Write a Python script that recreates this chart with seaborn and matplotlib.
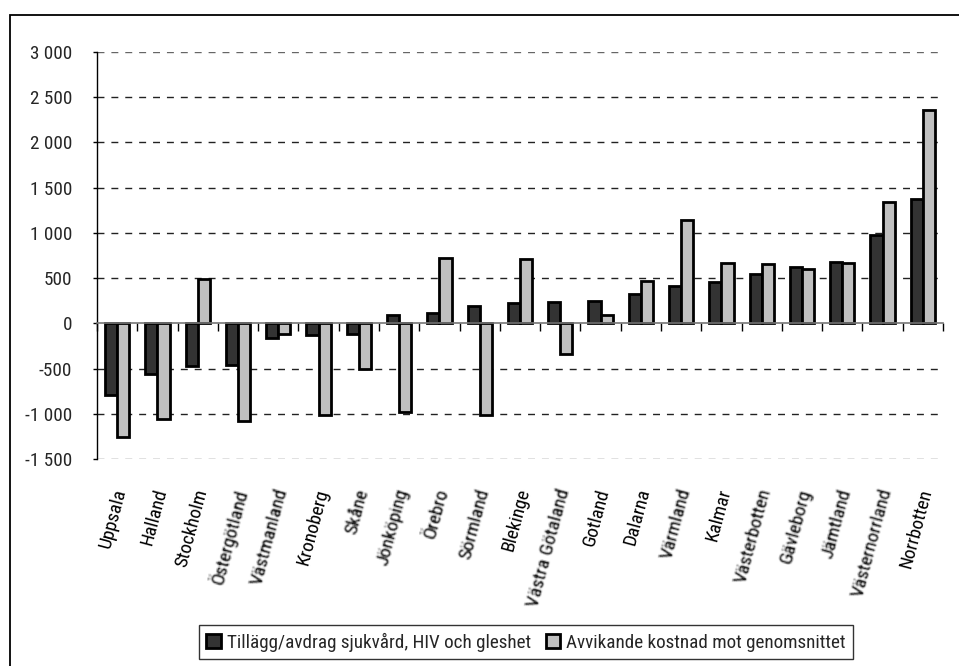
import numpy as np
import pandas as pd
import seaborn as sns
import matplotlib
matplotlib.use("Agg")
import matplotlib.pyplot as plt
from matplotlib import font_manager
from matplotlib.patches import Patch, Rectangle
import matplotlib.transforms as mtransforms

# Landsting, sorted by the supplement/deduction
regions = ["Uppsala", "Halland", "Stockholm", "Östergötland", "Västmanland",
           "Kronoberg", "Skåne", "Jönköping", "Örebro", "Sörmland", "Blekinge",
           "Västra Götaland", "Gotland", "Dalarna", "Värmland", "Kalmar",
           "Västerbotten", "Gävleborg", "Jämtland", "Västernorrland", "Norrbotten"]

tillagg = [-796, -556, -475, -464, -162, -129, -114, 88, 110, 196, 229,
           240, 251, 325, 409, 458, 550, 627, 679, 978, 1376]
avvikande = [-1256, -1057, 490, -1083, -114, -1010, -508, -984, 727, -1013, 716,
             -339, 96, 469, 1139, 668, 652, 601, 668, 1338, 2363]

series_names = ["Tillägg/avdrag sjukvård, HIV och gleshet",
                "Avvikande kostnad mot genomsnittet"]
colors = ["#333333", "#c0c0c0"]

yticks = [-1500, -1000, -500, 0, 500, 1000, 1500, 2000, 2500, 3000]
ytick_labels = ["-1 500", "-1 000", "-500", "0", "500", "1 000",
                "1 500", "2 000", "2 500", "3 000"]

# Labels whose glyphs come out smeared in this rendering
smeared = {"Östergötland", "Västmanland", "Skåne", "Jönköping", "Örebro",
           "Sörmland", "Västra Götaland", "Värmland", "Västerbotten",
           "Gävleborg", "Jämtland", "Västernorrland"}

df = pd.DataFrame({
    "region": regions * 2,
    "serie": [series_names[0]] * len(regions) + [series_names[1]] * len(regions),
    "value": tillagg + avvikande,
})

sns.set_theme(style="white")
installed = {f.name for f in font_manager.fontManager.ttflist}
narrow = [n for n in ("Liberation Sans Narrow", "Arial Narrow", "Roboto Condensed",
                      "Open Sans Condensed", "DejaVu Sans") if n in installed]
plt.rcParams["font.family"] = narrow + ["DejaVu Sans"]
plt.rcParams["font.stretch"] = "condensed"
FS = 13.8

fig = plt.figure(figsize=(9.59, 6.66), dpi=100)
ax = fig.add_axes([97 / 959, 1 - 459 / 666, (943 - 97) / 959, (459 - 52) / 666])

sns.barplot(data=df, x="region", y="value", hue="serie", order=regions,
            hue_order=series_names, palette=colors, width=0.6,
            edgecolor="black", linewidth=2.0, saturation=1, ax=ax,
            legend=False)

ax.set_ylim(-1500, 3000)
ax.set_xlim(-0.5, len(regions) - 0.5)
ax.set_yticks(yticks)
ax.set_yticklabels(ytick_labels, fontsize=FS)
ax.tick_params(axis="y", length=3, width=1, color="black", pad=15, left=True)
ax.set_xlabel("")
ax.set_ylabel("")

# dashed grid
for yv in yticks:
    if yv == 0:
        continue
    ax.axhline(yv, color="#666666" if yv in (-1500, 3000) else "#222222",
               lw=1.0, ls=(0, (5, 5)), zorder=0)

# spines: left solid, bottom at zero
for s in ["top", "right"]:
    ax.spines[s].set_visible(False)
ax.spines["left"].set_color("black")
ax.spines["left"].set_linewidth(1.0)
ax.spines["bottom"].set_position(("data", 0))
ax.spines["bottom"].set_color("#777777")
ax.spines["bottom"].set_linewidth(1.2)
ax.spines["bottom"].set_zorder(5)

ax.set_xticks(np.arange(len(regions)))
ax.set_xticklabels([])
ax.tick_params(axis="x", which="major", length=0, bottom=False)
ax.set_xticks(np.arange(len(regions) + 1) - 0.5, minor=True)
ax.tick_params(axis="x", which="minor", length=6, width=1, color="black",
               direction="out", bottom=True)


def blur_filter(im, dpi, r=1):
    pad = r * 2
    h, w, c = im.shape
    out = np.zeros((h + 2 * pad, w + 2 * pad, c), dtype=float)
    out[pad:pad + h, pad:pad + w] = im
    k = 2 * r + 1
    for axis in (0, 1):
        widths = [(r + 1, r) if a == axis else (0, 0) for a in range(3)]
        cs = np.cumsum(np.pad(out, widths), axis=axis)
        if axis == 0:
            out = (cs[k:] - cs[:-k]) / k
        else:
            out = (cs[:, k:] - cs[:, :-k]) / k
    # keep the smeared strokes fairly dark
    out[..., 3] = np.clip(out[..., 3] * 1.5, 0, 1)
    return out, -pad, -pad


# category labels under the plot area
offset = mtransforms.ScaledTranslation(4 / 100, -30 / 100, fig.dpi_scale_trans)
trans = mtransforms.blended_transform_factory(ax.transData, ax.transAxes) + offset
for i, name in enumerate(regions):
    t = ax.text(i, 0, name, transform=trans, rotation=75, rotation_mode="anchor",
                ha="right", va="center", fontsize=FS,
                color="#222222" if name in smeared else "black")
    if name in smeared:
        t.set_agg_filter(lambda im, dpi: blur_filter(im, dpi, 1))

# legend
handles = [Patch(facecolor=c, edgecolor="black", linewidth=2.0) for c in colors]
leg = fig.legend(handles, series_names, loc="center",
                 bbox_to_anchor=(526 / 959, 1 - 642 / 666), ncol=2,
                 frameon=True, fancybox=False, edgecolor="black", fontsize=FS,
                 handlelength=0.75, handleheight=0.75, handletextpad=0.3,
                 columnspacing=0.8, borderpad=0.4, borderaxespad=0)
leg.get_frame().set_linewidth(1.0)

# outer frame (left and top edges)
fig.patches.append(Rectangle((10 / 959, -0.1), 1.2, 1.1 - 15 / 666,
                             transform=fig.transFigure, fill=False,
                             edgecolor="black", linewidth=1.3))

fig.savefig("out.png", dpi=100)
